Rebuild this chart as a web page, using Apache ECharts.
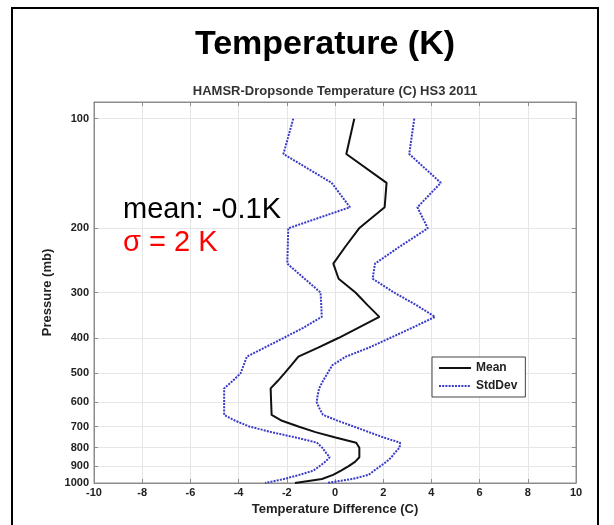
<!DOCTYPE html>
<html>
<head>
<meta charset="utf-8">
<script src="https://cdn.jsdelivr.net/npm/echarts@6/dist/echarts.min.js"></script>
<style>
  html, body { margin: 0; padding: 0; background: #ffffff; }
  #chart { width: 614px; height: 525px; }
</style>
</head>
<body>
<div id="chart"></div>
<script>
// Pressure levels (mb), every 25 mb from 100 to 1000
const pressureLevels = [100, 125, 150, 175, 200, 225, 250, 275, 300, 325, 350, 375, 400, 425, 450,
  475, 500, 525, 550, 575, 600, 625, 650, 675, 700, 725, 750, 775, 800, 825, 850, 875, 900, 925,
  950, 975, 1000];

// Mean HAMSR - dropsonde temperature difference (C)
const meanDiff = [0.8, 0.47, 2.14, 2.06, 1.0, 0.42, -0.07, 0.15, 0.85, 1.35, 1.84, 0.96, 0.14, -0.7,
  -1.52, -1.81, -2.1, -2.38, -2.67, -2.66, -2.65, -2.64, -2.63, -2.2, -1.52, -0.81, 0.02, 0.88,
  1.01, 1.01, 1.01, 0.83, 0.55, 0.25, -0.08, -0.54, -1.66];

// Lower standard-deviation envelope (C)
const stdLower = [-1.73, -2.14, -0.14, 0.62, -1.94, -1.96, -1.98, -1.26, -0.6, -0.57, -0.55, -1.32,
  -2.14, -2.92, -3.66, -3.79, -3.92, -4.25, -4.6, -4.6, -4.6, -4.6, -4.6, -4.13, -3.55, -2.64,
  -1.63, -0.75, -0.53, -0.38, -0.22, -0.41, -0.65, -0.9, -1.48, -2.12, -2.9];

// Upper standard-deviation envelope (C)
const stdUpper = [3.29, 3.08, 4.39, 3.42, 3.85, 2.66, 1.66, 1.56, 2.45, 3.38, 4.15, 3.2, 2.28, 1.41,
  0.45, -0.11, -0.31, -0.5, -0.66, -0.72, -0.76, -0.64, -0.5, 0.12, 0.78, 1.41, 2.02, 2.7, 2.68,
  2.49, 2.34, 2.13, 1.87, 1.62, 1.39, 0.72, -0.34];

// Labelled pressure ticks
const pressureTicks = [100, 200, 300, 400, 500, 600, 700, 800, 900, 1000];

const FONT = 'Liberation Sans, Arial, Helvetica, sans-serif';
const STD_COLOR = '#3a3ac8';
const FRAME = '#8c8c8c';

const toPairs = (xs) => xs.map((x, i) => [x, pressureLevels[i]]);

const chart = echarts.init(document.getElementById('chart'), null, { renderer: 'canvas' });

const tickLabel = { fontFamily: FONT, fontWeight: 'bold', fontSize: 11, color: '#222' };
const gridLine = { show: true, lineStyle: { color: '#e6e6e6', width: 1 } };
const frameLine = { show: true, onZero: false, lineStyle: { color: FRAME } };
const innerTick = { show: true, inside: true, length: 4, lineStyle: { color: FRAME } };

chart.setOption({
  backgroundColor: '#ffffff',
  animation: false,
  title: [
    {
      text: 'Temperature (K)',
      left: 320, top: 23, textAlign: 'center',
      textStyle: { fontFamily: FONT, fontWeight: 'bold', fontSize: 34, color: '#000' }
    },
    {
      text: 'HAMSR-Dropsonde Temperature (C) HS3 2011',
      left: 330, top: 80, textAlign: 'center',
      textStyle: { fontFamily: FONT, fontWeight: 'bold', fontSize: 13, color: '#333' }
    }
  ],
  grid: { left: 94, right: 38, top: 102, bottom: 42, show: true, borderColor: FRAME, borderWidth: 1 },
  legend: {
    data: ['Mean', 'StdDev'],
    orient: 'vertical',
    left: 432, top: 357,
    itemWidth: 32, itemHeight: 12, itemGap: 6,
    padding: [5, 8, 5, 6],
    borderColor: '#444', borderWidth: 1,
    backgroundColor: '#fff',
    itemStyle: { opacity: 0 },
    textStyle: { fontFamily: FONT, fontWeight: 'bold', fontSize: 12, color: '#222' }
  },
  xAxis: [
    {
      type: 'value', min: -10, max: 10, interval: 2,
      name: 'Temperature Difference (C)', nameLocation: 'middle', nameGap: 16,
      nameTextStyle: { fontFamily: FONT, fontWeight: 'bold', fontSize: 13, color: '#222' },
      axisLine: frameLine,
      axisTick: innerTick,
      axisLabel: Object.assign({ margin: 4 }, tickLabel),
      splitLine: gridLine
    },
    {
      type: 'value', min: -10, max: 10, interval: 2, position: 'top',
      axisLine: frameLine,
      axisTick: innerTick,
      axisLabel: { show: false },
      splitLine: { show: false }
    }
  ],
  yAxis: [
    {
      type: 'log', logBase: 10, min: 90, max: 1000, inverse: true,
      name: 'Pressure (mb)', nameLocation: 'middle', nameGap: 40, nameRotate: 90,
      nameTextStyle: { fontFamily: FONT, fontWeight: 'bold', fontSize: 13, color: '#222' },
      axisLine: frameLine,
      axisTick: Object.assign({ customValues: pressureTicks }, innerTick),
      axisLabel: Object.assign({ margin: 5, customValues: pressureTicks, formatter: (v) => String(v) }, tickLabel),
      splitLine: gridLine
    },
    {
      type: 'log', logBase: 10, min: 90, max: 1000, inverse: true, position: 'right',
      axisLine: frameLine,
      axisTick: Object.assign({ customValues: pressureTicks }, innerTick),
      axisLabel: { show: false },
      splitLine: { show: false }
    }
  ],
  series: [
    {
      name: 'StdDev', type: 'line', xAxisIndex: 0, yAxisIndex: 0,
      data: toPairs(stdLower), symbol: 'none', silent: true,
      lineStyle: { color: STD_COLOR, width: 2, type: [2, 1.2] },
      itemStyle: { color: STD_COLOR }
    },
    {
      name: 'StdDev', type: 'line', xAxisIndex: 0, yAxisIndex: 0,
      data: toPairs(stdUpper), symbol: 'none', silent: true,
      lineStyle: { color: STD_COLOR, width: 2, type: [2, 1.2] },
      itemStyle: { color: STD_COLOR }
    },
    {
      name: 'Mean', type: 'line', xAxisIndex: 0, yAxisIndex: 0,
      data: toPairs(meanDiff), symbol: 'none', silent: true,
      lineStyle: { color: '#111', width: 2 },
      itemStyle: { color: '#111' }
    }
  ],
  graphic: [
    {
      type: 'rect', silent: true, z: 100,
      shape: { x: 12, y: 8, width: 586, height: 530 },
      style: { fill: null, stroke: '#000', lineWidth: 2 }
    },
    {
      type: 'text', x: 123, y: 210, silent: true, z: 100,
      style: { text: 'mean: -0.1K', fontFamily: FONT, fontSize: 29, fill: '#000', verticalAlign: 'middle' }
    },
    {
      type: 'text', x: 123, y: 243, silent: true, z: 100,
      style: { text: 'σ = 2 K', fontFamily: FONT, fontSize: 29, fill: '#ff0000', verticalAlign: 'middle' }
    }
  ]
});
</script>
</body>
</html>
